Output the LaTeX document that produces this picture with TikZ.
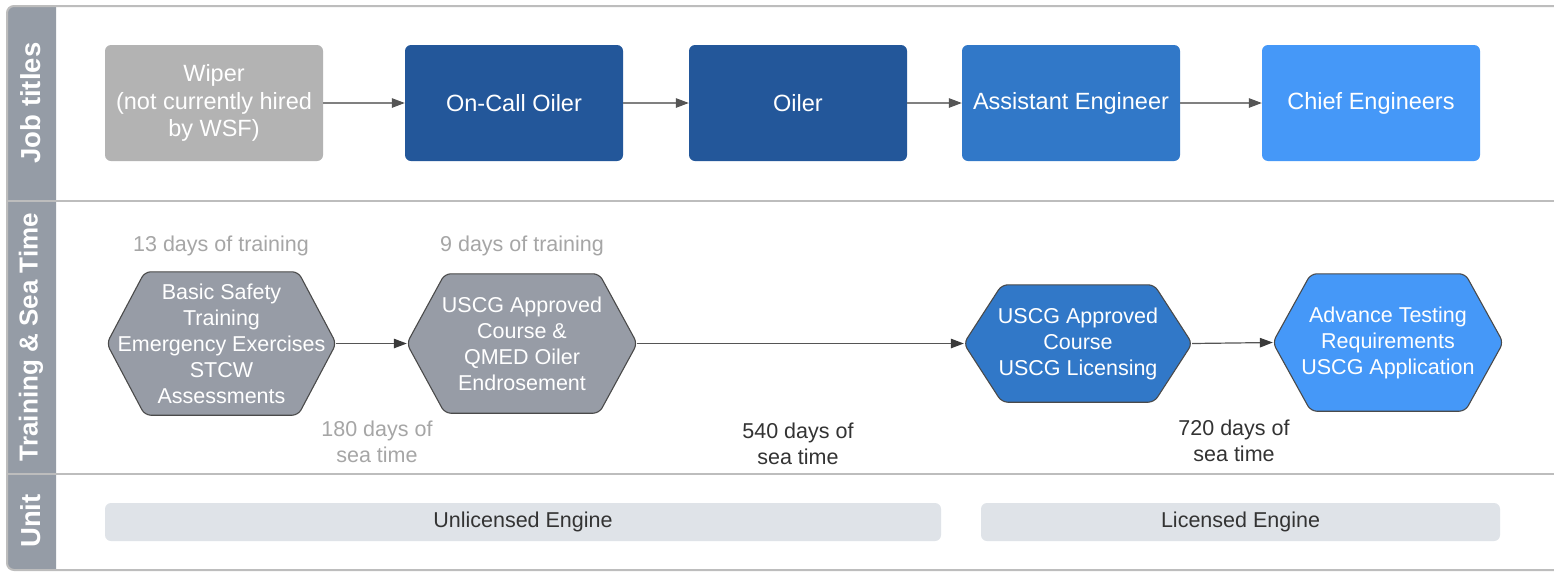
\documentclass[tikz,border=0pt]{standalone}
\usepackage{fontspec}
\setmainfont{Liberation Sans}
\usetikzlibrary{arrows.meta,backgrounds,calc}
\definecolor{stripc}{HTML}{959CA6}
\definecolor{framec}{HTML}{BDBDBD}
\definecolor{wiperc}{HTML}{B3B3B3}
\definecolor{darkblue}{HTML}{23579A}
\definecolor{midblue}{HTML}{3178C8}
\definecolor{lightblue}{HTML}{4598F8}
\definecolor{hexgray}{HTML}{979CA6}
\definecolor{unitc}{HTML}{DFE3E8}
\definecolor{labgray}{HTML}{A6A6A6}
\definecolor{labdark}{HTML}{333333}
\definecolor{linelight}{HTML}{808080}
\definecolor{linedark}{HTML}{555555}
\definecolor{headc}{HTML}{3A3A3A}
\definecolor{hexborder}{HTML}{4A4A4A}
\tikzset{
  jobbox/.style={rounded corners=6, minimum width=218, minimum height=116, inner sep=0pt,
    text=white, align=center, font=\fontsize{23.5}{27.5}\selectfont},
  hexbox/.style={inner sep=0pt, text=white, align=center, font=\fontsize{21.5}{26}\selectfont},
  hexline/.style={draw=hexborder, line width=1.1, rounded corners=6},
  unitbar/.style={fill=unitc, rounded corners=6, minimum height=38, inner sep=0pt,
    text=labdark, font=\fontsize{21.5}{26}\selectfont},
  lab/.style={align=center, inner sep=0pt, font=\fontsize{21.5}{26}\selectfont},
  header/.style={rotate=90, text=white, inner sep=0pt, font=\bfseries\fontsize{27.5}{30}\selectfont},
  flowa/.style={draw=linelight, line width=1.2, -{Triangle[length=13,width=9.5,color=linedark]}},
  flowb/.style={draw=linedark, line width=1.2, -{Triangle[length=13,width=9.5,color=headc]}},
  framel/.style={draw=framec, line width=2}
}
\newcommand\hexshape[2]{%
  \draw[hexline, fill=#2] (#1.west) -- ($(#1.north west)+(38,0)$) -- ($(#1.north east)+(-38,0)$)
    -- (#1.east) -- ($(#1.south east)+(-38,0)$) -- ($(#1.south west)+(38,0)$) -- cycle;}
\begin{document}
\begin{tikzpicture}[x=1pt, y=-1pt]
\useasboundingbox (0,0) rectangle (1554,571);
\begin{scope}[on background layer]
\fill[white] (0,0) rectangle (1554,571);
\end{scope}
% left strip
\fill[stripc, rounded corners=7] (56,6) -- (7,6) -- (7,570) -- (56,570);
% frame lines
\draw[framel, rounded corners=7] (1560,6) -- (7,6) -- (7,570) -- (1560,570);
\draw[framel] (7,201) -- (1560,201);
\draw[framel] (7,474) -- (1560,474);
% headers
\node[header] (hd1) at (31,103) {Job titles};
\node[header, font=\bfseries\fontsize{26}{30}\selectfont] (hd2) at (31,337) {Training \& Sea Time};
\node[header] (hd3) at (31,521) {Unit};
% job titles
\node[jobbox, fill=wiperc] (wiper) at (214,103) {Wiper\\(not currently hired\\by WSF)};
\node[jobbox, fill=darkblue] (oncall) at (514,103) {On-Call Oiler};
\node[jobbox, fill=darkblue] (oiler) at (798,103) {Oiler};
\node[jobbox, fill=midblue] (asst) at (1071,103) {Assistant Engineer};
\node[jobbox, fill=lightblue] (chief) at (1371,103) {Chief Engineers};
\draw[flowa] (wiper.east) -- (oncall.west);
\draw[flowa] (oncall.east) -- (oiler.west);
\draw[flowa] (oiler.east) -- (asst.west);
\draw[flowa] (asst.east) -- (chief.west);
% training hexagons
\node[hexbox, minimum width=229, minimum height=143] (h1) at (221.5,343.5)
  {Basic Safety\\Training\\Emergency Exercises\\STCW\\Assessments};
\node[hexbox, minimum width=230, minimum height=139] (h2) at (522,343.5)
  {USCG Approved\\Course \&\\QMED Oiler\\Endrosement};
\node[hexbox, minimum width=228, minimum height=117] (h3) at (1078,343.5)
  {USCG Approved\\Course\\USCG Licensing};
\node[hexbox, minimum width=230, minimum height=137] (h4) at (1388,342.5)
  {Advance Testing\\Requirements\\USCG Application};
\begin{scope}[on background layer]
\hexshape{h1}{hexgray}
\hexshape{h2}{hexgray}
\hexshape{h3}{midblue}
\hexshape{h4}{lightblue}
\end{scope}
\draw[flowb] (h1.east) -- (h2.west);
\draw[flowb] (h2.east) -- (h3.west);
\draw[flowb] (h3.east) -- (h4.west);
% labels
\node[lab, text=labgray] (t1) at (221,246) {13 days of training};
\node[lab, text=labgray] (t2) at (522,246) {9 days of training};
\node[lab, text=labgray] (s1) at (377,442) {180 days of\\sea time};
\node[lab, text=labdark] (s2) at (798,444) {540 days of\\sea time};
\node[lab, text=labdark] (s3) at (1234,441) {720 days of\\sea time};
% units
\node[unitbar, minimum width=836] (u1) at (523,522) {Unlicensed Engine};
\node[unitbar, minimum width=519] (u2) at (1240.5,522) {Licensed Engine};
\end{tikzpicture}
\end{document}
